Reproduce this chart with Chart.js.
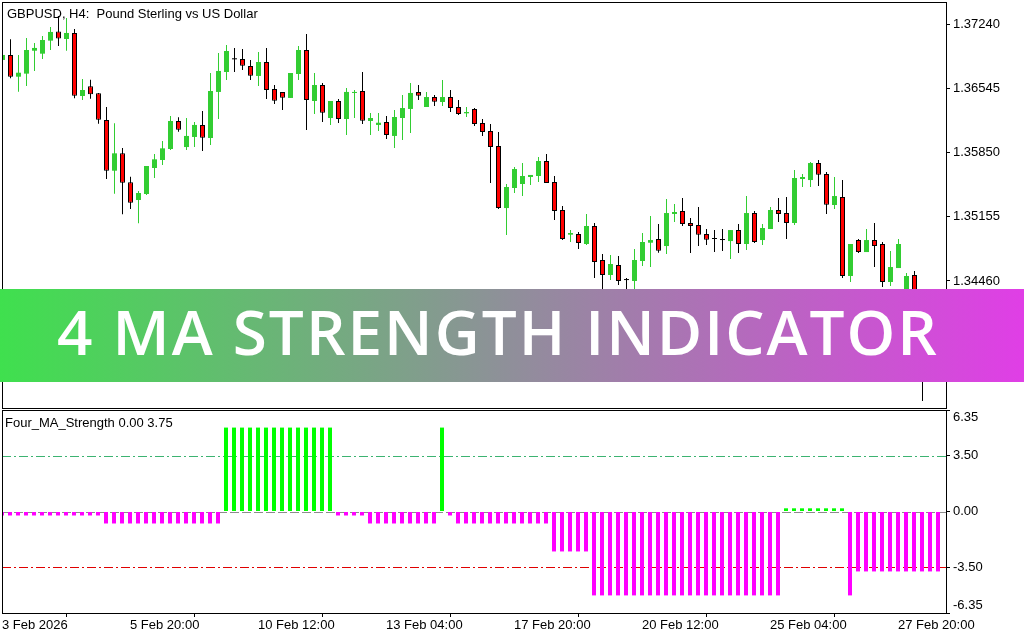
<!DOCTYPE html>
<html><head><meta charset="utf-8">
<script src="https://cdn.jsdelivr.net/npm/chart.js@4.4.0/dist/chart.umd.min.js"></script>
<style>
html,body{margin:0;padding:0;background:#fff;width:1024px;height:640px;overflow:hidden;}
#main{position:absolute;left:0;top:0;}
#sub{position:absolute;left:0;top:409px;}
#banner{position:absolute;left:0;top:289px;width:1024px;height:93px;background:linear-gradient(90deg,#3fe04e 0%,#e03ee6 100%);}
#banner span{position:absolute;left:57px;top:11px;font:600 62px/62px 'Open Sans';letter-spacing:2px;color:#fff;white-space:nowrap;}
</style></head><body>
<canvas id="main" width="1024" height="409"></canvas>
<canvas id="sub" width="1024" height="231"></canvas>
<div id="banner"><span>4 MA STRENGTH INDICATOR</span></div>
<script>
const symbolTitle = 'GBPUSD, H4:  Pound Sterling vs US Dollar';
const indicatorTitle = 'Four_MA_Strength 0.00 3.75';
const firstBar = -1;

const opens = [1.36851,1.36905,1.36670,1.36703,1.36951,1.36919,1.37060,1.37159,1.37078,1.37143,
1.36461,1.36566,1.36491,1.36202,1.35653,1.35841,1.35528,1.35336,1.35401,1.35682,
1.35769,1.35888,1.36191,1.35909,1.36018,1.36148,1.36007,1.36505,1.36721,1.36858,
1.36862,1.36786,1.36678,1.36829,1.36537,1.36505,1.36440,1.36699,1.36959,1.36407,
1.36580,1.36223,1.36407,1.36212,1.36494,1.36515,1.36191,1.36148,1.36180,1.36029,
1.36223,1.36321,1.36505,1.36342,1.36450,1.36396,1.36450,1.36342,1.36274,1.36321,
1.36169,1.36083,1.35920,1.35249,1.35466,1.35509,1.35585,1.35596,1.35758,1.35531,
1.35228,1.34961,1.34968,1.34860,1.35055,1.34687,1.34525,1.34633,1.34470,1.34460,
1.34676,1.34874,1.34914,1.34838,1.35185,1.35217,1.35087,1.35066,1.34968,1.34914,
1.34903,1.34892,1.35011,1.34860,1.35195,1.34903,1.35022,1.35228,1.35195,1.35087,
1.35563,1.35552,1.35736,1.35617,1.35282,1.35369,1.34514,1.34903,1.34773,1.34903,
1.34860,1.34449,1.34600,1.34308,1.34525,1.34146,1.33713,1.33875];

const highs = [1.36927,1.37075,1.36905,1.37089,1.37035,1.37110,1.37208,1.37327,1.37305,1.37186,
1.36645,1.36638,1.36494,1.36342,1.36166,1.35899,1.35588,1.35433,1.35704,1.35834,
1.35974,1.36245,1.36231,1.36223,1.36180,1.36299,1.36710,1.36927,1.37013,1.36981,
1.36970,1.36851,1.36937,1.36981,1.36580,1.36505,1.36710,1.37002,1.37132,1.36710,
1.36602,1.36407,1.36429,1.36548,1.36526,1.36721,1.36277,1.36277,1.36245,1.36310,
1.36472,1.36602,1.36580,1.36505,1.36472,1.36634,1.36526,1.36418,1.36342,1.36331,
1.36212,1.36158,1.36072,1.35509,1.35693,1.35736,1.35607,1.35801,1.35834,1.35596,
1.35271,1.35011,1.34990,1.35185,1.35087,1.34752,1.34741,1.34730,1.34492,1.34806,
1.34979,1.35163,1.35076,1.35347,1.35293,1.35358,1.35141,1.35260,1.35022,1.35011,
1.35022,1.35011,1.35076,1.35379,1.35217,1.35076,1.35260,1.35358,1.35369,1.35661,
1.35617,1.35747,1.35769,1.35639,1.35585,1.35552,1.34860,1.34914,1.35022,1.35087,
1.34882,1.34784,1.34914,1.34546,1.34568,1.34254,1.33929,1.33984];

const lows = [1.36829,1.36653,1.36508,1.36569,1.36732,1.36862,1.36959,1.37002,1.36951,1.36436,
1.36418,1.36432,1.36162,1.35563,1.35404,1.35181,1.35239,1.35084,1.35390,1.35574,
1.35715,1.35877,1.36075,1.35877,1.35909,1.35866,1.35931,1.36212,1.36634,1.36721,
1.36743,1.36634,1.36569,1.36429,1.36375,1.36310,1.36440,1.36634,1.36093,1.36267,
1.36180,1.36148,1.36169,1.36039,1.36223,1.36158,1.36039,1.36083,1.35996,1.35899,
1.35985,1.36061,1.36418,1.36342,1.36353,1.36353,1.36288,1.36256,1.36234,1.36137,
1.36029,1.35520,1.35239,1.34957,1.35412,1.35379,1.35498,1.35531,1.35520,1.35120,
1.34903,1.34882,1.34806,1.34849,1.34492,1.34362,1.34470,1.34416,1.34341,1.34341,
1.34622,1.34611,1.34766,1.34752,1.35098,1.35055,1.34763,1.34838,1.34849,1.34773,
1.34784,1.34698,1.34763,1.34795,1.34871,1.34849,1.35022,1.35098,1.34914,1.35066,
1.35477,1.35477,1.35488,1.35185,1.35239,1.34492,1.34449,1.34763,1.34773,1.34611,
1.34395,1.34406,1.34600,1.34254,1.33984,1.33161,1.33605,1.33713];

const closes = [1.36905,1.36670,1.36713,1.36959,1.36981,1.37067,1.37154,1.37083,1.37143,1.36465,
1.36526,1.36480,1.36205,1.35653,1.35841,1.35523,1.35307,1.35412,1.35704,1.35776,
1.35895,1.36191,1.36097,1.36029,1.36148,1.36010,1.36515,1.36732,1.36948,1.36858,
1.36789,1.36681,1.36829,1.36526,1.36410,1.36443,1.36710,1.36959,1.36418,1.36580,
1.36281,1.36407,1.36212,1.36505,1.36505,1.36194,1.36223,1.36172,1.36039,1.36234,
1.36331,1.36494,1.36465,1.36450,1.36400,1.36450,1.36331,1.36267,1.36288,1.36158,
1.36072,1.35909,1.35249,1.35477,1.35671,1.35596,1.35607,1.35758,1.35520,1.35217,
1.34914,1.34979,1.34871,1.35055,1.34665,1.34525,1.34644,1.34460,1.34470,1.34687,
1.34882,1.34903,1.34787,1.35195,1.35206,1.35076,1.35055,1.34961,1.34906,1.34914,
1.34903,1.35011,1.34860,1.35195,1.34882,1.35033,1.35228,1.35185,1.35087,1.35574,
1.35585,1.35736,1.35610,1.35285,1.35379,1.34514,1.34860,1.34773,1.34903,1.34838,
1.34449,1.34611,1.34860,1.34514,1.34146,1.33713,1.33875,1.33767];

const strength = [-0.25,-0.25,-0.25,-0.25,-0.25,-0.25,-0.25,-0.25,-0.25,-0.25,-0.25,-0.25,-0.25,
-0.75,-0.75,-0.75,-0.75,-0.75,-0.75,-0.75,-0.75,-0.75,-0.75,-0.75,-0.75,-0.75,-0.75,-0.75,
5.25,5.25,5.25,5.25,5.25,5.25,5.25,5.25,5.25,5.25,5.25,5.25,5.25,5.25,
-0.25,-0.25,-0.25,-0.25,
-0.75,-0.75,-0.75,-0.75,-0.75,-0.75,-0.75,-0.75,-0.75,
5.25,
-0.25,
-0.75,-0.75,-0.75,-0.75,-0.75,-0.75,-0.75,-0.75,-0.75,-0.75,-0.75,-0.75,
-2.5,-2.5,-2.5,-2.5,-2.5,
-5.25,-5.25,-5.25,-5.25,-5.25,-5.25,-5.25,-5.25,-5.25,-5.25,-5.25,-5.25,
-5.25,-5.25,-5.25,-5.25,-5.25,-5.25,-5.25,-5.25,-5.25,-5.25,-5.25,-5.25,
0.2,0.2,0.2,0.2,0.2,0.2,0.2,0.2,
-5.25,
-3.75,-3.75,-3.75,-3.75,-3.75,-3.75,-3.75,-3.75,-3.75,-3.75,-3.75];

const priceTicks = [1.34460, 1.35155, 1.35850, 1.36545, 1.37240];
const strengthTicks = [-6.35, -3.50, 0.00, 3.50, 6.35];
const levels = [3.50, 0.00, -3.50];
const timeTickBars = [-1, 15, 31, 47, 63, 79, 95, 111];
const timeLabels = ['3 Feb 2026','5 Feb 20:00','10 Feb 12:00','13 Feb 04:00','17 Feb 20:00','20 Feb 12:00','25 Feb 04:00','27 Feb 20:00'];

// styles
const BULL = '#32cd32', BEAR = '#ff0000', UPH = '#00ff00', DNH = '#ff00ff';
const levelColors = ['#3cb371', '#8c8c8c', '#e00000'];
const levelDash = [[9,3,2,3],[9,3],[9,3,2,3]];
const FONT = "'Liberation Sans', Arial, sans-serif";

Chart.defaults.font.family = FONT;
Chart.defaults.font.size = 13;
Chart.defaults.color = '#000';

const bars = opens.map((_, i) => firstBar + i);
const isBull = i => closes[i] > opens[i];
const isDoji = i => closes[i] === opens[i];

const framePlugin = {
  id: 'frame',
  afterDraw(chart, args, opts) {
    const {ctx, chartArea: a} = chart;
    ctx.save();
    ctx.strokeStyle = '#000'; ctx.lineWidth = 1;
    ctx.strokeRect(a.left + 0.5, a.top + 0.5, a.right - a.left, a.bottom - a.top);
    ctx.font = '13px ' + FONT; ctx.fillStyle = '#000'; ctx.textBaseline = 'alphabetic';
    ctx.fillText(opts.text, opts.x, opts.y);
    ctx.restore();
  }
};

const levelPlugin = {
  id: 'levels',
  beforeDatasetsDraw(chart) {
    const {ctx, chartArea: a, scales: {y}} = chart;
    ctx.save();
    levels.forEach((v, i) => {
      const py = Math.round(y.getPixelForValue(v)) + 0.5;
      ctx.strokeStyle = levelColors[i]; ctx.lineWidth = 1; ctx.setLineDash(levelDash[i]);
      ctx.beginPath(); ctx.moveTo(a.left, py); ctx.lineTo(a.right, py); ctx.stroke();
    });
    ctx.restore();
  }
};

new Chart(document.getElementById('main'), {
  type: 'bar',
  data: {
    datasets: [
      {
        label: 'wick', order: 2, grouped: false, barThickness: 1, inflateAmount: 0, borderWidth: 0, clip: 0,
        data: bars.map((k, i) => ({x: k, y: [lows[i], highs[i]]})),
        backgroundColor: bars.map((k, i) => isBull(i) ? BULL : '#000')
      },
      {
        label: 'body', order: 1, grouped: false, barThickness: 5, inflateAmount: 0, minBarLength: 1, clip: 0,
        borderSkipped: false,
        data: bars.map((k, i) => ({x: k, y: [opens[i], closes[i]]})),
        backgroundColor: bars.map((k, i) => isDoji(i) ? '#000' : (isBull(i) ? BULL : BEAR)),
        borderColor: bars.map((k, i) => isBull(i) ? BULL : '#000'),
        borderWidth: bars.map((k, i) => (isBull(i) || isDoji(i)) ? 0 : 1)
      }
    ]
  },
  options: {
    responsive: false, animation: false, devicePixelRatio: 1, events: [],
    layout: {padding: {left: 2, top: 2, right: 0, bottom: 1}},
    plugins: {legend: {display: false}, tooltip: {enabled: false},
      frame: {text: symbolTitle, x: 7, y: 18}},
    scales: {
      x: {type: 'linear', display: false, min: -1.0625, max: 116.9375, offset: false},
      y: {
        position: 'right', min: 1.33086, max: 1.37478,
        grid: {drawOnChartArea: false, drawTicks: true, tickLength: 4, color: '#000'},
        border: {display: false},
        ticks: {padding: 3, color: '#000', callback: v => Number(v).toFixed(5)},
        afterBuildTicks: s => { s.ticks = priceTicks.map(v => ({value: v})); },
        afterFit: s => { s.width = 78; s.paddingTop = 0; s.paddingBottom = 0; }
      }
    }
  },
  plugins: [framePlugin]
});

new Chart(document.getElementById('sub'), {
  type: 'bar',
  data: {
    datasets: [{
      label: 'strength', grouped: false, barThickness: 4, inflateAmount: 0, borderWidth: 0, clip: 0,
      data: bars.map((k, i) => ({x: k, y: strength[i]})),
      backgroundColor: strength.map(v => v >= 0 ? UPH : DNH)
    }]
  },
  options: {
    responsive: false, animation: false, devicePixelRatio: 1, events: [],
    layout: {padding: {left: 2, top: 1, right: 0, bottom: 0}},
    plugins: {legend: {display: false}, tooltip: {enabled: false},
      frame: {text: indicatorTitle, x: 5, y: 18}},
    scales: {
      x: {
        type: 'linear', min: -1, max: 117, offset: false,
        grid: {drawOnChartArea: false, drawTicks: true, tickLength: 4, color: '#000'},
        border: {display: false},
        ticks: {align: 'start', maxRotation: 0, minRotation: 0, autoSkip: false, padding: 1, color: '#000',
          callback: v => timeLabels[timeTickBars.indexOf(v)]},
        afterBuildTicks: s => { s.ticks = timeTickBars.map(v => ({value: v})); },
        afterFit: s => { s.height = 27; s.paddingLeft = 0; s.paddingRight = 0; }
      },
      y: {
        position: 'right', min: -6.35, max: 6.35,
        grid: {drawOnChartArea: false, drawTicks: true, tickLength: 4, color: '#000'},
        border: {display: false},
        ticks: {padding: 3, color: '#000',
          callback: (v, i, t) => {
            const s = Number(v).toFixed(2);
            if (i === 0) return [s, ''];
            if (i === t.length - 1) return ['', s];
            return s;
          }},
        afterBuildTicks: s => { s.ticks = strengthTicks.map(v => ({value: v})); },
        afterFit: s => { s.width = 78; s.paddingTop = 0; s.paddingBottom = 0; }
      }
    }
  },
  plugins: [framePlugin, levelPlugin]
});
</script>
</body></html>
